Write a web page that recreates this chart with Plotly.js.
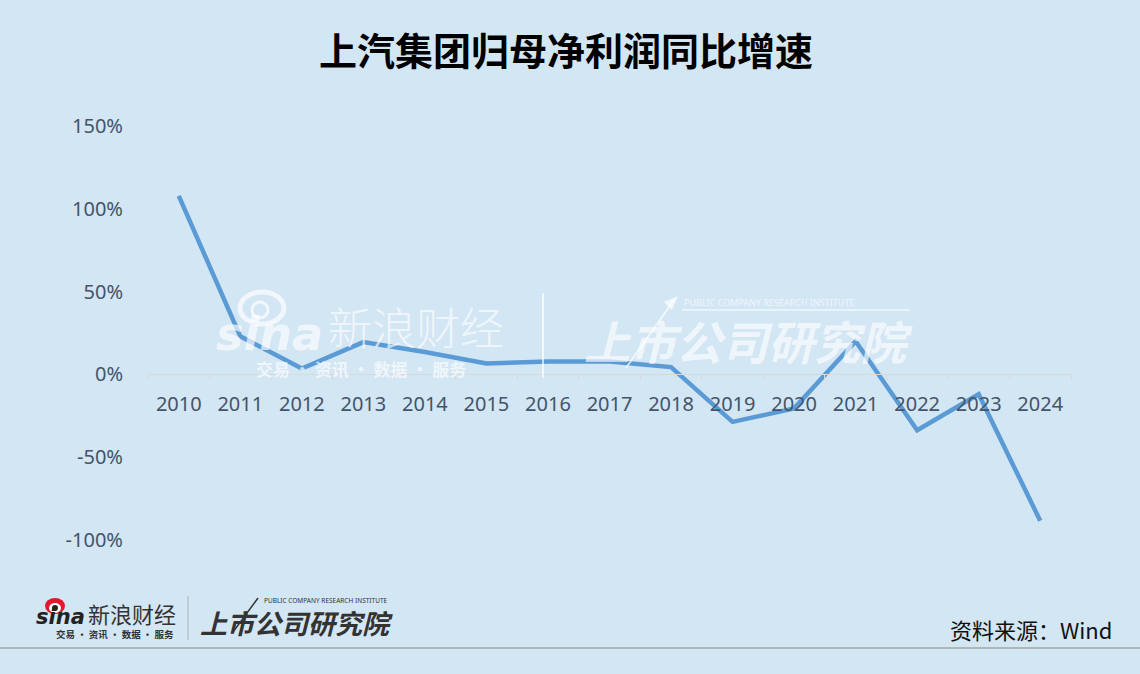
<!DOCTYPE html>
<html>
<head>
<meta charset="utf-8">
<script src="https://cdn.plot.ly/plotly-3.0.1.min.js"></script>
<style>
html,body{margin:0;padding:0;background:#d3e6f4;}
#chart{width:1140px;height:674px;}
</style>
</head>
<body>
<div id="chart"></div>
<script>
// ---- data ----
const years = ['2010','2011','2012','2013','2014','2015','2016','2017','2018','2019','2020','2021','2022','2023','2024'];
const growthPct = [107.8, 23.0, 3.5, 19.5, 13.5, 6.6, 7.8, 7.8, 4.4, -28.7, -20.5, 20.0, -33.7, -12.0, -88.4];
const yTickVals = [-100, -50, 0, 50, 100, 150];
const yTickText = yTickVals.map(v => v + '%');
const titleText = '上汽集团归母净利润同比增速';
const sourceText = '资料来源：Wind';

// ---- layout geometry ----
const W = 1140, H = 674;
const M = {l: 148, r: 69, t: 126, b: 134};
const yRange = [-100, 150];
const pw = W - M.l - M.r, ph = H - M.t - M.b;
const px = x => (x - M.l) / pw;          // figure px -> paper x
const py = y => (H - M.b - y) / ph;      // figure px -> paper y
const zeroPos = (0 - yRange[0]) / (yRange[1] - yRange[0]);

const numFont = '"Noto Sans", "Open Sans", sans-serif';
const cjk = '"Noto Sans CJK SC", sans-serif';
const axisColor = '#44546a';

const trace = {
  x: years, y: growthPct, type: 'scatter', mode: 'lines',
  line: {color: '#5b9bd5', width: 4.5},
  hoverinfo: 'skip'
};

const annotations = [];
function note(text, x, y, opts) {
  annotations.push(Object.assign({
    text: text, xref: 'paper', yref: 'paper', x: px(x), y: py(y),
    xanchor: 'left', yanchor: 'middle', showarrow: false
  }, opts || {}));
}

// watermark (centre)
const wm = 'rgba(255,255,255,0.68)';
note('<b><i>sina</i></b>', 214, 334, {font: {family: '"DejaVu Sans", sans-serif', size: 46, color: wm}});
note('新浪财经', 326, 326, {font: {family: cjk, size: 44, color: wm, weight: 300}});
note('交易 · 资讯 · 数据 · 服务', 254, 368, {font: {family: cjk, size: 17, color: wm, weight: 700}});
note('<b><i>上市公司研究院</i></b>', 582, 340, {font: {family: cjk, size: 46, color: wm, weight: 900}});
note('PUBLIC COMPANY RESEARCH INSTITUTE', 682, 302, {font: {family: numFont, size: 9, color: wm}});

// bottom-left logo
note('<b><i>sina</i></b>', 34, 617, {font: {family: '"DejaVu Sans", sans-serif', size: 21, color: '#222'}});
note('新浪财经', 86, 613, {font: {family: cjk, size: 22, color: '#333'}});
note('交易 · 资讯 · 数据 · 服务', 54, 634, {font: {family: cjk, size: 9.5, color: '#333', weight: 700}});
note('<b><i>上市公司研究院</i></b>', 198, 622, {font: {family: cjk, size: 27, color: '#333', weight: 900}});
note('PUBLIC COMPANY RESEARCH INSTITUTE', 262, 600, {font: {family: numFont, size: 6.5, color: '#333'}});

// source
note(sourceText, 1114, 629, {xanchor: 'right', font: {family: cjk, size: 22, color: '#111'}});

const shapes = [
  // bottom separator
  {type: 'line', xref: 'paper', yref: 'paper', x0: px(0), x1: px(W), y0: py(648), y1: py(648),
   line: {color: '#a6a6a6', width: 1.5}},
  // bottom logo vertical divider
  {type: 'line', xref: 'paper', yref: 'paper', x0: px(188), x1: px(188), y0: py(596), y1: py(640),
   line: {color: '#b0b0b0', width: 1}},
  // sina eye (bottom)
  {type: 'circle', xref: 'paper', yref: 'paper', x0: px(45), x1: px(65), y0: py(614), y1: py(598),
   fillcolor: '#e6162d', line: {width: 0}},
  {type: 'circle', xref: 'paper', yref: 'paper', x0: px(49), x1: px(61), y0: py(613), y1: py(603),
   fillcolor: '#ffffff', line: {width: 0}},
  {type: 'circle', xref: 'paper', yref: 'paper', x0: px(52), x1: px(58), y0: py(611), y1: py(605),
   fillcolor: '#222', line: {width: 0}},
  // watermark divider
  {type: 'line', xref: 'paper', yref: 'paper', x0: px(543), x1: px(543), y0: py(293), y1: py(378),
   line: {color: wm, width: 2}},
  // watermark eye
  {type: 'circle', xref: 'paper', yref: 'paper', x0: px(240), x1: px(284), y0: py(324), y1: py(292),
   fillcolor: 'rgba(0,0,0,0)', line: {color: wm, width: 5}},
  {type: 'circle', xref: 'paper', yref: 'paper', x0: px(252), x1: px(268), y0: py(318), y1: py(302),
   fillcolor: 'rgba(0,0,0,0)', line: {color: wm, width: 3}},
  // watermark arrow + underline
  {type: 'line', xref: 'paper', yref: 'paper', x0: px(626), x1: px(674), y0: py(368), y1: py(300),
   line: {color: wm, width: 2}},
  {type: 'path', xref: 'paper', yref: 'paper',
   path: `M ${px(678)} ${py(296)} L ${px(664)} ${py(302)} L ${px(672)} ${py(310)} Z`,
   fillcolor: wm, line: {width: 0}},
  {type: 'line', xref: 'paper', yref: 'paper', x0: px(682), x1: px(910), y0: py(310), y1: py(310),
   line: {color: wm, width: 1.5}},
  // bottom logo arrow
  {type: 'line', xref: 'paper', yref: 'paper', x0: px(233), x1: px(258), y0: py(632), y1: py(598),
   line: {color: '#333', width: 1.5}}
];

const layout = {
  width: W, height: H,
  margin: M,
  paper_bgcolor: '#d3e6f4', plot_bgcolor: '#d3e6f4',
  showlegend: false,
  title: {
    text: '<b>' + titleText + '</b>',
    xref: 'container', yref: 'container', x: 566 / W, y: 1 - 52 / H,
    xanchor: 'center', yanchor: 'middle',
    font: {family: cjk, size: 38, color: '#000', weight: 900}
  },
  xaxis: {
    type: 'category', range: [-0.5, years.length - 0.5],
    anchor: 'free', position: zeroPos,
    showline: true, linecolor: '#d9d9d9', linewidth: 1,
    ticks: 'outside', tickson: 'boundaries', ticklen: 5, tickcolor: '#d9d9d9',
    showgrid: false, zeroline: false,
    ticklabelstandoff: 12,
    tickfont: {family: numFont, size: 20, color: axisColor}
  },
  yaxis: {
    range: yRange, tickmode: 'array', tickvals: yTickVals, ticktext: yTickText,
    showgrid: false, zeroline: false, showline: false, ticks: '',
    ticklabelstandoff: 24,
    tickfont: {family: numFont, size: 20, color: axisColor}
  },
  annotations: annotations,
  shapes: shapes
};

Plotly.newPlot('chart', [trace], layout, {displayModeBar: false, staticPlot: true});
</script>
</body>
</html>
